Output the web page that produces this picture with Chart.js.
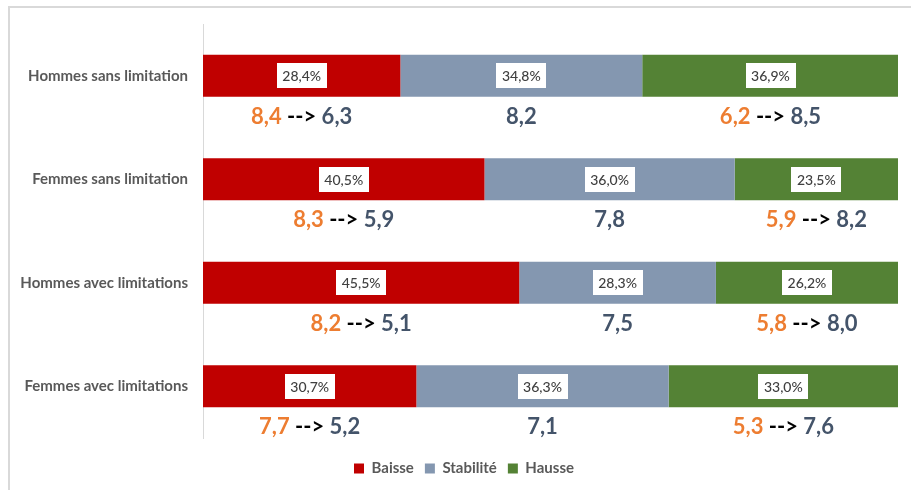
<!DOCTYPE html>
<html>
<head>
<meta charset="utf-8">
<script src="https://cdn.jsdelivr.net/npm/chart.js@4/dist/chart.umd.min.js"></script>
<style>
    html, body { margin: 0; padding: 0; background: #fff; }
    #wrap { position: relative; width: 911px; height: 490px; overflow: hidden; }
    #frame { position: absolute; left: 8px; top: 6px; width: 920px; height: 500px;
             border-top: 2px solid #d9d9d9; border-left: 2px solid #d9d9d9; }
    #chart { position: absolute; left: 0; top: 0; }
</style>
</head>
<body>
<div id="wrap">
    <div id="frame"></div>
    <canvas id="chart" width="911" height="490"></canvas>
</div>
<script>
const categories = ['Hommes sans limitation', 'Femmes sans limitation', 'Hommes avec limitations', 'Femmes avec limitations'];
const seriesNames = ['Baisse', 'Stabilité', 'Hausse'];
const baisse = [28.4, 40.5, 45.5, 30.7];
const stabilite = [34.8, 36.0, 28.3, 36.3];
const hausse = [36.9, 23.5, 26.2, 33.0];

// scores shown under each segment: before --> after
const baisseAvant = [8.4, 8.3, 8.2, 7.7];
const baisseApres = [6.3, 5.9, 5.1, 5.2];
const stabiliteScore = [8.2, 7.8, 7.5, 7.1];
const hausseAvant = [6.2, 5.9, 5.8, 5.3];
const hausseApres = [8.5, 8.2, 8.0, 7.6];

const colors = ['#C00000', '#8497B0', '#548235'];
const FONT = 'Lato, "Open Sans", sans-serif';

function fr(v) {
    return v.toFixed(1).replace('.', ',');
}

// piece list for the score line under a segment
function scorePieces(ds, i) {
    if (ds === 0) {
        return [[fr(baisseAvant[i]), '#ED7D31'], [' --> ', '#000000'], [fr(baisseApres[i]), '#44546A']];
    }
    if (ds === 1) {
        return [[fr(stabiliteScore[i]), '#44546A']];
    }
    return [[fr(hausseAvant[i]), '#ED7D31'], [' --> ', '#000000'], [fr(hausseApres[i]), '#44546A']];
}

const labelsPlugin = {
    id: 'segmentLabels',
    afterLayout(chart) {
        // legend sits a bit lower and to the right in the original
        const lg = chart.legend;
        if (lg) {
            lg.top += 12;
            lg.bottom += 12;
            lg.left += 15;
            lg.right += 15;
        }
    },
    afterDatasetsDraw(chart) {
        const ctx = chart.ctx;
        const yScale = chart.scales.y;
        const step = Math.abs(yScale.getPixelForValue(1) - yScale.getPixelForValue(0));
        ctx.save();
        chart.data.datasets.forEach((dataset, ds) => {
            const meta = chart.getDatasetMeta(ds);
            meta.data.forEach((bar, i) => {
                const cx = (bar.x + bar.base) / 2;

                // percentage in a white box
                const txt = fr(dataset.data[i]) + '%';
                ctx.font = '500 14px ' + FONT;
                const w = ctx.measureText(txt).width + 11;
                const h = 25;
                ctx.fillStyle = '#ffffff';
                ctx.fillRect(Math.round(cx - w / 2), Math.round(bar.y - h / 2), Math.round(w), h);
                ctx.fillStyle = '#404040';
                ctx.textAlign = 'center';
                ctx.textBaseline = 'middle';
                ctx.fillText(txt, cx, bar.y + 1);

                // score line below the bar
                const pieces = scorePieces(ds, i);
                ctx.font = 'bold 22px ' + FONT;
                let total = 0;
                pieces.forEach(p => total += ctx.measureText(p[0]).width);
                let x = cx - total / 2;
                const y = bar.y + step * 0.395;
                ctx.textAlign = 'left';
                pieces.forEach(p => {
                    ctx.fillStyle = p[1];
                    ctx.fillText(p[0], x, y);
                    x += ctx.measureText(p[0]).width;
                });
            });
        });
        ctx.restore();
    }
};

new Chart(document.getElementById('chart'), {
    type: 'bar',
    data: {
        labels: categories,
        datasets: [
            { label: seriesNames[0], data: baisse, backgroundColor: colors[0] },
            { label: seriesNames[1], data: stabilite, backgroundColor: colors[1] },
            { label: seriesNames[2], data: hausse, backgroundColor: colors[2] }
        ]
    },
    options: {
        indexAxis: 'y',
        responsive: false,
        animation: false,
        layout: { padding: { top: 24, right: 13, bottom: 16, left: 0 } },
        datasets: {
            bar: { barPercentage: 0.404, categoryPercentage: 1, borderWidth: 0 }
        },
        scales: {
            x: {
                stacked: true,
                min: 0,
                max: 100,
                display: false
            },
            y: {
                stacked: true,
                grid: { display: false, drawTicks: false },
                border: { display: true, color: '#d9d9d9', width: 1 },
                ticks: {
                    color: '#595959',
                    font: { family: FONT, size: 15, weight: 'bold' },
                    padding: 15
                },
                afterFit(scale) {
                    scale.width = 203;
                }
            }
        },
        plugins: {
            legend: {
                position: 'bottom',
                labels: {
                    boxWidth: 10,
                    boxHeight: 10,
                    padding: 11,
                    color: '#595959',
                    font: { family: FONT, size: 15, weight: 'bold' }
                }
            },
            tooltip: { enabled: false }
        }
    },
    plugins: [labelsPlugin]
});
</script>
</body>
</html>
